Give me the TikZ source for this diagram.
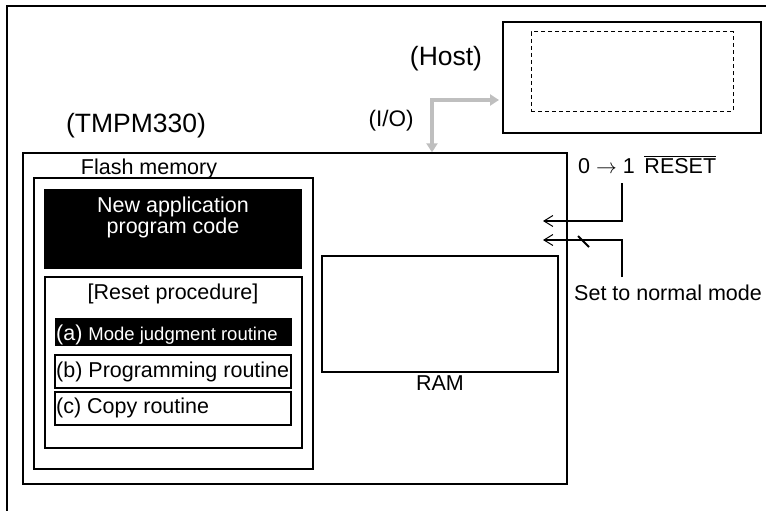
\documentclass[tikz,border=0pt]{standalone}
\usepackage{fontspec}
\setmainfont{Liberation Sans}
\usetikzlibrary{arrows.meta,fit,positioning}
\tikzset{>=Straight Barb}
\tikzset{
  txt/.style={inner sep=0pt, font=\fontsize{21.5}{24}\selectfont},
  bigtxt/.style={inner sep=0pt, font=\fontsize{26.5}{30}\selectfont},
  frame/.style={draw, inner sep=0pt, line width=2pt},
  thinframe/.style={draw, inner sep=0pt, line width=1.4pt},
  blackbox/.style={fill=black, inner sep=0pt},
  io/.style={line width=4pt, color=gray!50, shorten >=3pt,
    {Triangle[length=9pt,width=11pt]}-{Triangle[length=9pt,width=11pt]}},
  sig/.style={line width=2pt, -{Straight Barb[length=9pt,width=11pt,line width=1pt]}},
}

\begin{document}
\begin{tikzpicture}[x=1pt,y=-1pt]
  \useasboundingbox (0,0) rectangle (766,511);
  % outer frame, cut at right and bottom
  \coordinate (frameTL) at (7,6);
  \draw[line width=2pt] (766,6) -- (frameTL) -- (7,511);

  \node[frame, fit={(503,22) (761,133)}] (host) {};
  \node[draw, inner sep=0pt, line width=1pt, dash pattern=on 4pt off 3pt,
    fit={(531,32) (733,111)}] (hostwin) {};
  \node[bigtxt, anchor=base] (hostlbl) at (446,66) {(Host)};

  \node[thinframe, fit={(23,153) (567,484)}] (chip) {};
  \node[bigtxt, anchor=base] (chiplbl) at (136,132) {(TMPM330)};
  \node[txt, anchor=base, font=\fontsize{22.5}{25}\selectfont] (iolbl) at (391,126) {(I/O)};

  \node[frame, fit={(34,178) (313,469)}] (flash) {};
  \node[txt, anchor=base] (flashlbl) at (149,174) {Flash memory};
  \node[blackbox, fit={(44,189) (302,269)}] (newcode) {};
  \node[txt, anchor=base, text=white] (newtxtA) at (173,212) {New application};
  \node[txt, anchor=base, text=white] (newtxtB) at (173,233) {program code};

  \node[thinframe, fit={(45,277) (302,448)}] (reset) {};
  \node[txt, anchor=base] (resetlbl) at (173,299) {[Reset procedure]};
  \node[blackbox, fit={(55,318) (292,346)}] (modebox) {};
  \node[thinframe, fit={(55,355) (291,388)}] (progbox) {};
  \node[thinframe, fit={(55,392) (291,425)}] (copybox) {};
  \node[txt, anchor=base west, text=white] (modelbl) at (56,340)
    {(a) {\fontsize{18.5}{21}\selectfont Mode judgment routine}};
  \node[txt, anchor=base west] (proglbl) at (56,377) {(b) Programming routine};
  \node[txt, anchor=base west] (copylbl) at (56,413) {(c) Copy routine};

  \node[thinframe, fit={(322,256) (558,372)}] (ram) {};
  \node[txt, anchor=base] (ramlbl) at (440,390) {RAM};

  \node[txt, anchor=base west] (rstlbl) at (578,173)
    {0 $\rightarrow$ 1\hspace{0.45em}$\overline{\mbox{RESET}}$};
  \node[txt, anchor=base west] (normlbl) at (574,300) {Set to normal mode};

  \coordinate (ioBend) at (432,100);
  \draw[io] (chip.north -| ioBend) -- (ioBend) -- (ioBend -| host.west);

  \coordinate (rstIn) at (622,183);
  \coordinate (rstOut) at (543,221);
  \draw[sig] (rstIn) |- (rstOut);
  \coordinate (modeIn) at (622,277);
  \coordinate (modeOut) at (543,240);
  \draw[sig] (modeIn) |- (modeOut);
  \draw[line width=2pt] (578,236) -- (589,247);
\end{tikzpicture}
\end{document}
